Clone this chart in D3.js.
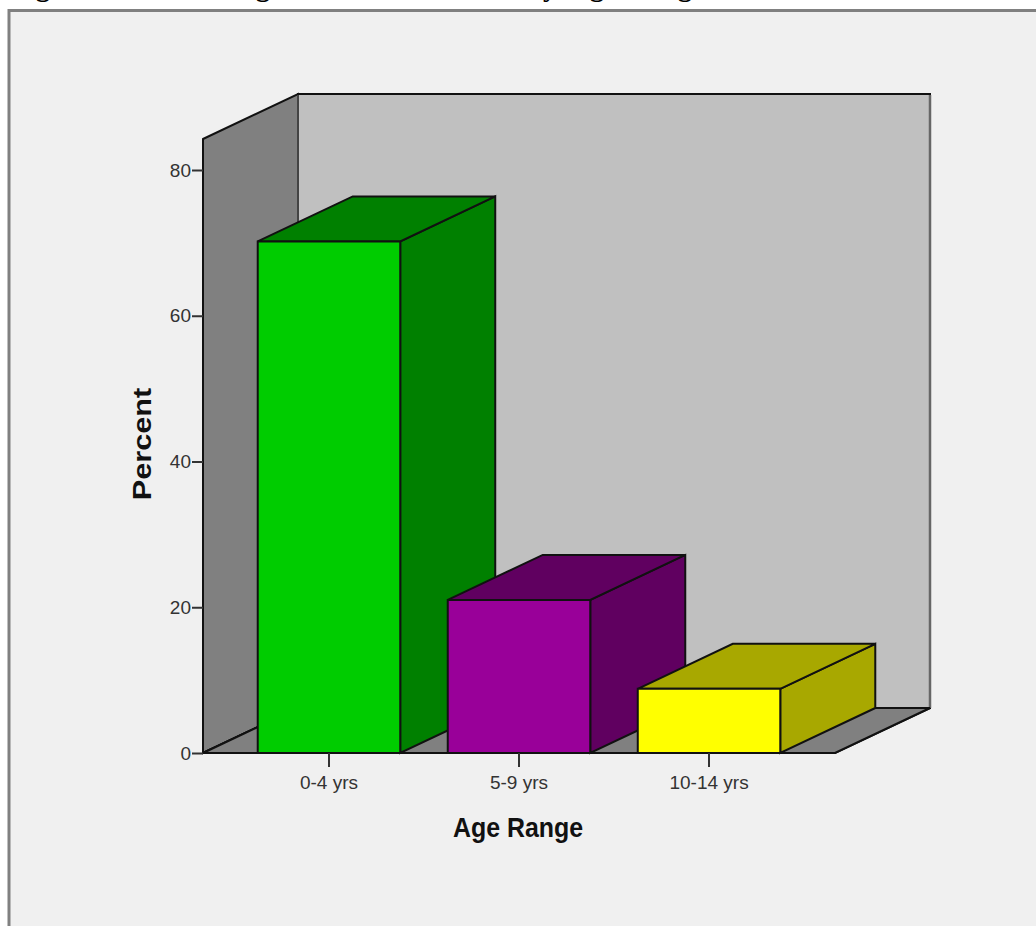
<!DOCTYPE html>
<html>
<head>
<meta charset="utf-8">
<title>Age Range</title>
<script src="https://cdn.jsdelivr.net/npm/d3@7"></script>
<style>
  html, body { margin: 0; padding: 0; background: #fff; }
  svg { display: block; }
</style>
</head>
<body>
<svg id="chart" width="1036" height="926"></svg>
<script>
// Share of cases per age band
const categories = ["0-4 yrs", "5-9 yrs", "10-14 yrs"];
const percents = [70.2, 21.0, 8.8];
const yTicks = [0, 20, 40, 60, 80];
const yMax = 84.25;
const faceColors = ["#00cc00", "#990099", "#ffff00"];
const sideColors = ["#008000", "#600060", "#a8a800"];
// Descending strokes of the caption line, which runs off the top edge of the page
const captionTails = [["g", 43], ["g", 263], ["y", 550], ["g", 597], ["g", 685]];

const svg = d3.select("#chart");
const W = 1036, H = 926;
const plot = { left: 203, right: 835, bottom: 753 };
const depth = { x: 95, y: -45 };

const y = d3.scaleLinear().domain([0, 80]).range([plot.bottom, 170]);
const x = d3.scaleBand().domain(categories)
  .range([plot.left, plot.right])
  .paddingInner(0.25).paddingOuter(0.288);

const sans = "'Liberation Sans',Arial,sans-serif";
const serif = "'Liberation Serif','Times New Roman',serif";
const outline = "#111";

// Panel behind the chart, with its grey frame on the top and left edges
svg.append("rect").attr("width", W).attr("height", H).attr("fill", "#fff");
svg.append("rect").attr("x", 9).attr("y", 10).attr("width", W - 9).attr("height", H - 10)
  .attr("fill", "#f0f0f0");
svg.append("path").attr("d", `M9,${H}V10.5H${W}`)
  .attr("fill", "none").attr("stroke", "#808080").attr("stroke-width", 3);

svg.append("g").selectAll("text").data(captionTails).join("text")
  .attr("x", d => d[1]).attr("y", -4).attr("text-anchor", "middle")
  .attr("fill", "#000").style("font", `bold 28px ${serif}`).text(d => d[0]);

const poly = pts => d3.line()(pts) + "Z";
const shift = ([px, py]) => [px + depth.x, py + depth.y];

function face(pts, fill) {
  svg.append("path").attr("d", poly(pts)).attr("fill", fill)
    .attr("stroke", outline).attr("stroke-width", 2).attr("stroke-linejoin", "miter");
}

// The three walls of the 3D box
const wallTop = y(yMax);
const fl = [plot.left, plot.bottom], fr = [plot.right, plot.bottom];
const tl = [plot.left, wallTop];
const backTop = shift(tl)[1];
face([shift(tl), [shift(fr)[0], backTop], shift(fr), shift(fl)], "#c0c0c0");
face([tl, shift(tl), shift(fl), fl], "#808080");
face([fl, fr, shift(fr), shift(fl)], "#808080");

// The rear vertical edges read softer than the rest of the outline
svg.append("path").attr("d", d3.line()([[shift(fr)[0], backTop + 1], shift(fr)]))
  .attr("stroke", "#666").attr("stroke-width", 2.5);
svg.append("path").attr("d", d3.line()([[shift(fl)[0], backTop + 1], shift(fl)]))
  .attr("stroke", "#444").attr("stroke-width", 2);
face([fl, fr, shift(fr), shift(fl)], "#808080");

// One box per age band: side, top, then the front face
categories.forEach((c, i) => {
  const x0 = x(c), x1 = x0 + x.bandwidth();
  const top = y(percents[i]), base = y(0);
  face([[x1, top], shift([x1, top]), shift([x1, base]), [x1, base]], sideColors[i]);
  face([[x0, top], shift([x0, top]), shift([x1, top]), [x1, top]], sideColors[i]);
  face([[x0, top], [x1, top], [x1, base], [x0, base]], faceColors[i]);
});

// Value axis ticks and labels
const yAxis = svg.append("g").attr("transform", `translate(${plot.left},0)`)
  .call(d3.axisLeft(y).tickValues(yTicks).tickSize(11).tickSizeOuter(0).tickPadding(1));
yAxis.select(".domain").remove();
yAxis.selectAll("line").attr("stroke", "#333").attr("stroke-width", 2);
yAxis.selectAll("text").attr("fill", "#333").style("font", `19px ${sans}`);

// Category axis ticks and labels
const xAxis = svg.append("g").attr("transform", `translate(0,${plot.bottom})`)
  .call(d3.axisBottom(x).tickSize(14).tickSizeOuter(0).tickPadding(8.5));
xAxis.select(".domain").remove();
xAxis.selectAll("line").attr("stroke", "#333").attr("stroke-width", 2);
xAxis.selectAll("text").attr("fill", "#333").style("font", `19px ${sans}`);

// Axis titles
svg.append("text").attr("transform", "translate(518,837) scale(0.89,1)")
  .attr("text-anchor", "middle").attr("fill", "#111")
  .style("font", `bold 28px ${sans}`).text("Age Range");
svg.append("text").attr("transform", "translate(151,444) rotate(-90) scale(1.18,1)")
  .attr("text-anchor", "middle").attr("fill", "#111")
  .style("font", `bold 26px ${sans}`).text("Percent");
</script>
</body>
</html>
